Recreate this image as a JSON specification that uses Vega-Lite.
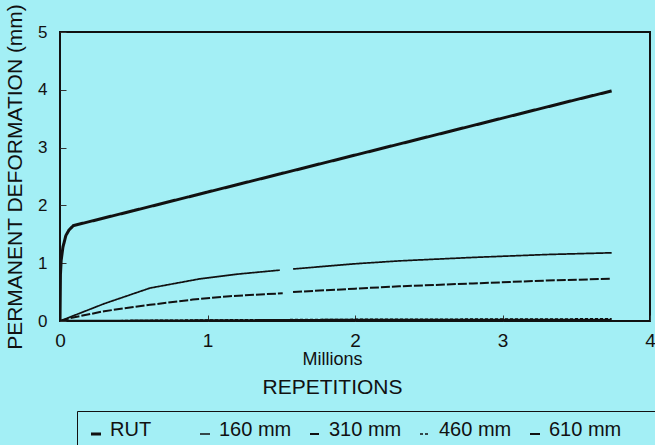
{
  "$schema": "https://vega.github.io/schema/vega-lite/v6.json",
  "width": 590,
  "height": 289,
  "autosize": {"type": "none"},
  "padding": {"left": 60, "top": 32, "right": 5, "bottom": 124},
  "background": "#a3eff5",
  "config": {
    "font": "Liberation Sans",
    "view": {"stroke": "#111", "strokeWidth": 2},
    "axis": {"grid": false, "labelColor": "#111", "titleColor": "#111", "labelFont": "Liberation Sans", "titleFont": "Liberation Sans", "titleFontWeight": "normal", "domain": false}
  },
  "data": {
    "values": [
      {"series": "RUT", "seg": 1, "x": 0, "y": 0},
      {"series": "RUT", "seg": 1, "x": 0.003, "y": 0.8},
      {"series": "RUT", "seg": 1, "x": 0.008, "y": 1.05},
      {"series": "RUT", "seg": 1, "x": 0.02, "y": 1.28},
      {"series": "RUT", "seg": 1, "x": 0.04, "y": 1.48},
      {"series": "RUT", "seg": 1, "x": 0.06, "y": 1.57},
      {"series": "RUT", "seg": 1, "x": 0.09, "y": 1.65},
      {"series": "RUT", "seg": 1, "x": 0.5, "y": 1.91},
      {"series": "RUT", "seg": 1, "x": 1, "y": 2.23},
      {"series": "RUT", "seg": 1, "x": 1.5, "y": 2.55},
      {"series": "RUT", "seg": 1, "x": 2, "y": 2.87},
      {"series": "RUT", "seg": 1, "x": 2.5, "y": 3.19},
      {"series": "RUT", "seg": 1, "x": 3, "y": 3.51},
      {"series": "RUT", "seg": 1, "x": 3.5, "y": 3.83},
      {"series": "RUT", "seg": 1, "x": 3.74, "y": 3.98},
      {"series": "160 mm", "seg": 1, "x": 0, "y": 0},
      {"series": "160 mm", "seg": 1, "x": 0.07, "y": 0.07},
      {"series": "160 mm", "seg": 1, "x": 0.3, "y": 0.3},
      {"series": "160 mm", "seg": 1, "x": 0.61, "y": 0.57},
      {"series": "160 mm", "seg": 1, "x": 0.95, "y": 0.73},
      {"series": "160 mm", "seg": 1, "x": 1.2, "y": 0.81},
      {"series": "160 mm", "seg": 1, "x": 1.49, "y": 0.88},
      {"series": "160 mm", "seg": 2, "x": 1.58, "y": 0.9},
      {"series": "160 mm", "seg": 2, "x": 2, "y": 0.99},
      {"series": "160 mm", "seg": 2, "x": 2.3, "y": 1.04},
      {"series": "160 mm", "seg": 2, "x": 2.8, "y": 1.1},
      {"series": "160 mm", "seg": 2, "x": 3.3, "y": 1.15},
      {"series": "160 mm", "seg": 2, "x": 3.74, "y": 1.18},
      {"series": "310 mm", "seg": 1, "x": 0, "y": 0},
      {"series": "310 mm", "seg": 1, "x": 0.07, "y": 0.05},
      {"series": "310 mm", "seg": 1, "x": 0.3, "y": 0.17},
      {"series": "310 mm", "seg": 1, "x": 0.61, "y": 0.28},
      {"series": "310 mm", "seg": 1, "x": 0.9, "y": 0.37},
      {"series": "310 mm", "seg": 1, "x": 1.15, "y": 0.43},
      {"series": "310 mm", "seg": 1, "x": 1.51, "y": 0.48},
      {"series": "310 mm", "seg": 2, "x": 1.58, "y": 0.5},
      {"series": "310 mm", "seg": 2, "x": 2, "y": 0.56},
      {"series": "310 mm", "seg": 2, "x": 2.3, "y": 0.6},
      {"series": "310 mm", "seg": 2, "x": 2.8, "y": 0.65},
      {"series": "310 mm", "seg": 2, "x": 3.3, "y": 0.7},
      {"series": "310 mm", "seg": 2, "x": 3.73, "y": 0.73},
      {"series": "460 mm", "seg": 1, "x": 0, "y": 0},
      {"series": "460 mm", "seg": 1, "x": 1, "y": 0.02},
      {"series": "460 mm", "seg": 1, "x": 2, "y": 0.03},
      {"series": "460 mm", "seg": 1, "x": 3.74, "y": 0.04},
      {"series": "610 mm", "seg": 1, "x": 0, "y": 0},
      {"series": "610 mm", "seg": 1, "x": 1, "y": 0.01},
      {"series": "610 mm", "seg": 1, "x": 2, "y": 0.02},
      {"series": "610 mm", "seg": 1, "x": 3.74, "y": 0.02}
    ]
  },
  "layer": [
    {
      "mark": {"type": "line", "color": "#111", "clip": true},
      "encoding": {
        "x": {
          "field": "x", "type": "quantitative",
          "scale": {"domain": [0, 4], "nice": false},
          "axis": {"values": [0, 1, 2, 3, 4], "format": "d", "labelFlush": false, "labelFontSize": 19, "labelPadding": 16, "tickSize": -6, "tickColor": "#333", "tickWidth": 1, "title": "Millions", "titleFontSize": 18, "titlePadding": 0, "titleX": 272}
        },
        "y": {
          "field": "y", "type": "quantitative",
          "scale": {"domain": [0, 5], "nice": false},
          "axis": {"values": [0, 1, 2, 3, 4, 5], "format": "d", "labelFlush": false, "labelFontSize": 17, "labelPadding": 19, "tickSize": -6, "tickColor": "#333", "tickWidth": 1, "title": "PERMANENT DEFORMATION (mm)", "titleFontSize": 21, "titlePadding": 12}
        },
        "detail": {"field": "seg"},
        "strokeDash": {
          "field": "series", "type": "nominal",
          "scale": {"domain": ["RUT", "160 mm", "310 mm", "460 mm", "610 mm"], "range": [[1, 0], [1, 0], [9, 2], [3, 2], [1, 0]]},
          "legend": {"title": null}
        },
        "strokeWidth": {
          "field": "series", "type": "nominal",
          "scale": {"type": "ordinal", "domain": ["RUT", "160 mm", "310 mm", "460 mm", "610 mm"], "range": [3, 1.7, 2, 1.3, 2.2]},
          "legend": {
            "title": null, "orient": "none", "legendX": 17, "legendY": 379, "direction": "horizontal",
            "strokeColor": "#111", "padding": 9, "fillColor": "#a3eff5",
            "labelFontSize": 20, "labelColor": "#111", "labelFont": "Liberation Sans",
            "labelOffset": 4, "columnPadding": 13,
            "symbolType": "M-1,0.8L1,0.8", "symbolSize": 100, "symbolStrokeColor": "#111",
            "labelExpr": "datum.label == 'RUT' ? 'RUT\u2800\u2800' : datum.label == '610 mm' ? '610 mm\u2800\u2800' : datum.label"
          }
        }
      }
    },
    {
      "mark": {"type": "point", "opacity": 0},
      "encoding": {
        "x": {
          "field": "x", "type": "quantitative",
          "scale": {"domain": [0, 4], "nice": false},
          "axis": {"orient": "bottom", "labels": false, "ticks": false, "domain": false, "title": "REPETITIONS", "titleFontSize": 21, "titlePadding": 55, "titleX": 272}
        },
        "y": {"field": "y", "type": "quantitative"}
      }
    }
  ],
  "resolve": {"axis": {"x": "independent"}}
}
